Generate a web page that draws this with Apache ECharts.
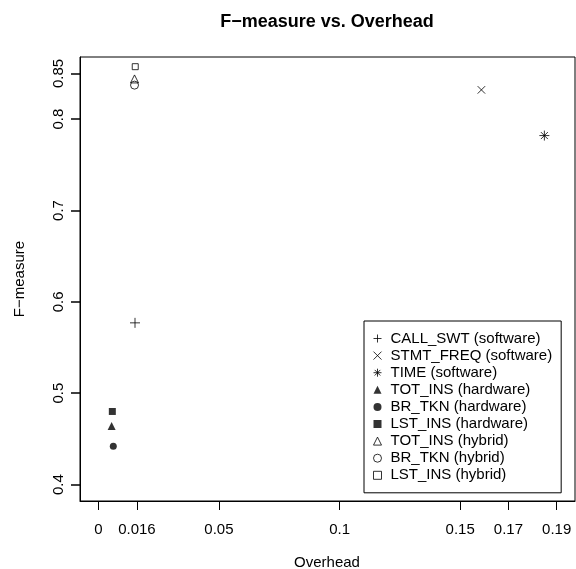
<!DOCTYPE html>
<html>
<head>
<meta charset="utf-8">
<script src="https://cdn.jsdelivr.net/npm/echarts@6/dist/echarts.min.js"></script>
<style>html,body{margin:0;padding:0;background:#fff}#c{width:576px;height:569px}</style>
</head>
<body>
<div id="c"></div>
<script>
// ---- data ----
var seriesNames = ['CALL_SWT (software)','STMT_FREQ (software)','TIME (software)','TOT_INS (hardware)','BR_TKN (hardware)','LST_INS (hardware)','TOT_INS (hybrid)','BR_TKN (hybrid)','LST_INS (hybrid)'];
var overhead = [0.0152, 0.1588, 0.1849, 0.0055, 0.0062, 0.0058, 0.0150, 0.0150, 0.0153];
var fmeasure = [0.577, 0.832, 0.782, 0.464, 0.442, 0.480, 0.844, 0.8372, 0.8574];
var xTicks = [0, 0.016, 0.05, 0.1, 0.15, 0.17, 0.19];
var yTicks = [0.4, 0.5, 0.6, 0.7, 0.8, 0.85];

var FONT = 'Liberation Sans, Arial, Helvetica, sans-serif';
var symbols = [
  {symbol:'path://M0,5L10,5M5,0L5,10', size:10, fill:false},
  {symbol:'path://M0,0L10,10M10,0L0,10', size:7.5, fill:false},
  {symbol:'path://M0,5L10,5M5,0L5,10M1.5,1.5L8.5,8.5M8.5,1.5L1.5,8.5', size:10, fill:false},
  {symbol:'triangle', size:8, fill:true},
  {symbol:'circle', size:7, fill:true},
  {symbol:'rect', size:7, fill:true},
  {symbol:'triangle', size:8, fill:false},
  {symbol:'circle', size:8, fill:false},
  {symbol:'rect', size:6, fill:false}
];

var series = seriesNames.map(function(n, i){
  var s = symbols[i];
  return {
    name: n, type: 'scatter',
    data: [[overhead[i], fmeasure[i]]],
    symbol: s.symbol, symbolSize: s.size,
    itemStyle: s.fill ? {color:'#000'} : {color:'rgba(255,255,255,0)', borderColor:'#000', borderWidth:1},
    emphasis: {disabled: true}
  };
});

var legendData = seriesNames.map(function(n, i){
  var s = symbols[i];
  return {
    name: n, icon: s.symbol,
    itemStyle: s.fill ? {color:'#000', borderWidth:0} : {color:'rgba(255,255,255,0)', borderColor:'#000', borderWidth:1}
  };
});

var chart = echarts.init(document.getElementById('c'), null, {renderer:'canvas'});
chart.setOption({
  animation: false,
  backgroundColor: '#fff',
  textStyle: {fontFamily: FONT, color:'#000'},
  grid: {left: 80, right: 1, top: 57, bottom: 68, show: true, borderColor:'#000', borderWidth:1, backgroundColor:'transparent'},
  xAxis: {
    type: 'value', min: -0.0076, max: 0.1976,
    axisLine: {show: true, onZero: false, lineStyle:{color:'#000', width:1}},
    splitLine: {show: false},
    axisTick: {show: true, inside:false, length: 9, lineStyle:{color:'#000', width:1}, customValues: xTicks},
    axisLabel: {show: true, margin: 21, fontSize: 15, fontFamily: FONT, color:'#000', customValues: xTicks,
      formatter: function(v){ return String(+v.toFixed(3)); }}
  },
  yAxis: {
    type: 'value', min: 0.382, max: 0.868, position: 'left',
    axisLine: {show: true, onZero: false, lineStyle:{color:'#000', width:1}},
    splitLine: {show: false},
    axisTick: {show: true, inside:false, length: 9, lineStyle:{color:'#000', width:1.5}, customValues: yTicks},
    axisLabel: {show: true, margin: 14, rotate: 90, fontSize: 15, fontFamily: FONT, color:'#000', customValues: yTicks,
      formatter: function(v){ return String(+v.toFixed(3)); }}
  },
  legend: {
    orient: 'vertical', left: 364, top: 321,
    padding: [10, 9, 10, 9],
    borderColor: '#000', borderWidth: 1, borderRadius: 0,
    itemWidth: 8, itemHeight: 8, itemGap: 2.1,
    selectedMode: false,
    textStyle: {fontSize: 15, lineHeight: 15, fontFamily: FONT, color:'#000', padding:[0,0,0,4]},
    data: legendData
  },
  graphic: [
    {type:'text', x: 327, y: 22, style:{text:'F\u2212measure vs. Overhead', font:'bold 18px ' + FONT, fill:'#000', align:'center', verticalAlign:'middle'}},
    {type:'text', x: 327, y: 563, style:{text:'Overhead', font:'15px ' + FONT, fill:'#000', align:'center', verticalAlign:'middle'}},
    {type:'text', x: 20, y: 279, rotation: Math.PI/2, style:{text:'F\u2212measure', font:'15px ' + FONT, fill:'#000', align:'center', verticalAlign:'middle'}}
  ],
  series: series
});
</script>
</body>
</html>
